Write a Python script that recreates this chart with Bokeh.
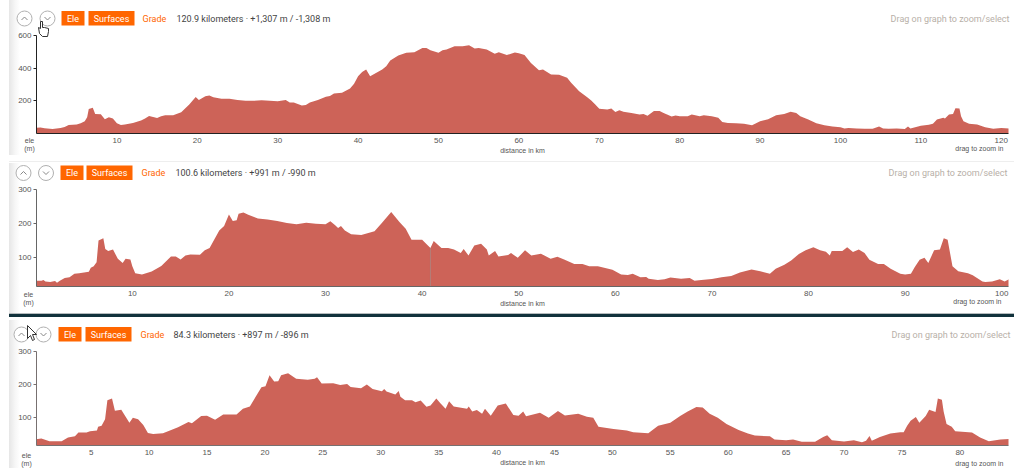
from bokeh.plotting import figure
from bokeh.layouts import column
from bokeh.models import (ColumnDataSource, Range1d, FixedTicker, Div)
from bokeh.core.properties import value
from bokeh.embed import file_html
from bokeh.resources import INLINE

# ---- data ----
km1 = [0,0.5,1,2,3,3.5,4,5,5.5,6,6.3,6.5,7,7.3,8,8.5,9,9.5,10,10.5,11,12,13,13.5,14,15,15.5,16,17,18,19,19.8,20.2,21,21.5,22,23,24,25,26,27,28,29,30,31,31.5,32,33,33.5,34,35,36,36.5,37,38,
       39,39.5,40,40.5,41,41.5,42,43,43.5,44,45,46,47,48,48.5,49,50,50.5,51,52,53,53.8,54.5,55,56,57,57.5,58.5,59.5,60,60.7,61.5,62.5,63,64,65,66,66.5,67.5,68.5,69,69.5,70,71,71.5,72,72.5,73,74,75,75.5,76,76.8,77.5,78,79,79.5,80,
       81,81.5,82.5,83,84,84.8,85.3,86,87,88,89,90,91,92,93,93.8,94.5,95,96,97,98,99,100,100.5,101,102,103,104,104.8,105.3,106,107,108,108.4,108.7,110,111,111.5,112,112.8,113,113.5,114,114.3,114.8,115,115.3,116,117,118,119,120,121]
ele1 = [35,37,32,28,33,40,52,55,62,75,100,150,158,120,118,88,100,92,62,52,55,65,80,92,107,95,105,112,112,130,177,224,205,228,232,222,213,212,205,200,200,203,200,198,205,190,190,172,175,190,205,225,230,245,249,
        275,304,350,377,392,350,365,392,412,447,477,494,498,524,524,510,494,510,514,534,534,540,520,524,514,488,498,480,496,492,480,432,388,392,361,359,341,310,259,222,202,177,151,147,153,131,143,133,126,116,120,108,137,137,126,104,110,106,
        106,116,106,112,106,96,71,65,63,59,51,75,88,112,120,133,126,106,86,63,51,43,39,31,33,31,29,29,43,31,29,31,27,43,31,47,53,59,86,96,92,116,120,155,153,106,75,59,55,39,29,33,31]

km2 = [0,0.6,0.8,1,1.5,2,2.2,2.5,3,3.5,4,4.5,5,5.5,5.7,6,6.3,6.5,7,7.2,7.5,8,8.5,9,9.3,9.8,10,10.3,11,12,13,14,14.5,15,15.5,16,17,17.5,18,19,19.5,20,20.4,20.8,21,21.5,22,23,24,25,26,27,28,29,30,30.5,31,31.3,
       31.6,32,32.65,33.7,35.07,35.76,36.8,37.65,38.3,38.9,40,40.86,41.2,42,42.7,43.3,44,44.3,44.8,45.4,46.1,46.7,46.9,47.55,47.9,48.9,49.2,49.9,50.65,51.3,52.3,53.3,54,54.7,55.75,56.6,57.3,58.2,59.7,60.6,61.3,61.8,62.6,63.2,63.45,64.4,65.1,65.7,66.8,
       67.7,68.2,68.9,70,71,72,72.9,74.1,75,76,76.6,77.5,78.2,79,79.7,80.5,81.2,81.8,82.2,82.4,83.5,84,84.6,85.2,85.8,86.3,87.2,87.8,88.5,89.5,90,90.6,91,91.5,92,92.4,93,93.6,94,94.4,94.9,95.5,96.5,97,98,98.3,99,99.8,100.3,100.75]
ele2 = [33,33,35,31,29,32,27,33,41,43,53,55,57,59,71,75,87,151,157,126,120,124,97,85,97,95,75,55,51,60,76,104,104,95,107,110,109,122,129,180,193,227,208,210,229,233,226,215,212,208,202,198,203,200,198,207,195,187,
        193,180,169,167,178,200,234,205,185,153,153,129,149,129,129,124,114,126,107,136,141,124,107,120,104,108,114,100,122,107,112,97,103,95,82,82,75,75,65,51,50,53,43,44,39,35,37,42,39,
        41,33,35,38,43,47,57,66,61,53,68,80,92,111,122,131,122,118,107,120,120,131,117,124,114,94,82,82,68,53,51,53,73,94,100,85,122,124,157,153,75,61,55,49,31,29,31,37,31,37]
gap_km2 = [40.86]
gap_top2 = [129]

km3 = [0,0.7,1.4,2.45,3,3.6,3.9,4.6,4.9,5.5,5.6,5.9,6.2,6.4,6.8,7.05,7.6,8.3,8.6,9.05,9.5,9.9,10.35,11.2,11.8,12.5,13.4,13.7,14.5,15,15.7,16.4,17.55,18.1,18.7,19.7,20.05,20.4,20.8,21.15,21.4,22,22.7,23.7,24.3,24.5,24.9,25.9,26.5,
       27.1,27.4,28.3,28.8,29.3,30.1,30.3,30.5,31.26,31.55,31.7,32.1,32.7,33,33.45,33.95,34.3,34.8,35.15,35.6,35.9,36.3,37.45,37.6,37.9,38.3,38.75,39,39.5,40.1,40.8,41.45,41.9,42.3,42.55,43.75,44.5,45.3,45.9,47.05,47.8,48.35,48.8,50.1,51.25,51.8,53.1,53.95,55,55.85,
       56.5,57.25,57.8,58.4,59.1,59.85,60.9,61.7,62.3,63.6,64,65,65.6,66.35,67.5,68.2,68.55,68.95,70,70.85,71.55,71.9,72.2,72.4,73.1,74,74.85,75.15,75.45,75.75,76.2,76.5,77.05,77.35,77.9,78.1,78.45,78.6,78.85,79.3,79.6,81.05,81.75,82.5,83.5,84.3]
ele3 = [34,37,29,29,40,44,55,55,59,61,73,76,95,153,158,121,124,85,100,95,78,54,51,53,61,71,87,83,105,106,94,110,110,127,134,192,195,228,209,210,228,234,218,215,218,222,203,204,199,
        202,193,189,200,187,180,187,179,170,181,163,153,153,147,152,133,137,158,144,127,150,134,127,134,119,123,112,127,106,137,143,108,106,119,104,115,100,120,107,112,103,100,73,66,61,56,53,76,85,105,
        119,132,131,112,100,81,63,52,46,44,34,32,34,27,27,42,47,32,28,32,26,30,45,30,42,52,56,56,76,91,102,85,105,124,117,158,154,119,81,73,59,55,40,29,34,36]

title_stats = ["120.9 kilometers · +1,307 m / -1,308 m", "100.6 kilometers · +991 m / -990 m", "84.3 kilometers · +897 m / -896 m"]
xticks = [list(range(10,121,10)), list(range(10,101,10)), list(range(5,81,5))]
yticks = [[200,400,600],[100,200,300],[100,200,300]]

# ---- style / layout ----
W = 1015
FILL = "#cd6358"
ORANGE = "#ff6600"
SANS = "Roboto"
SMALL = "Liberation Sans"

def make(top, h, l, r, pt, pb, xmin, xmax, ymin, ymax, km, ele, xt, yt, axc, shade):
    p = figure(width=W, height=h, output_backend="svg", toolbar_location=None,
               x_range=Range1d(xmin, xmax), y_range=Range1d(ymin, ymax),
               min_border_left=l, min_border_right=W-r, min_border_top=pt-top, min_border_bottom=top+h-pb)
    p.outline_line_color = None
    p.grid.visible = False
    p.background_fill_color = None
    p.border_fill_color = None
    p.styles = {"background-image": "linear-gradient(to right,#ffffff 9px,#e6e6e6 9px,#f6f6f6 15px,#ffffff 20px)",
                "background-repeat": "no-repeat",
                "background-size": f"100% {shade[1]-shade[0]}px",
                "background-position": f"0 {shade[0]-top}px"}
    src = ColumnDataSource(dict(x=km, y=ele, b=[ymin]*len(km)))
    p.varea(x="x", y1="b", y2="y", source=src, fill_color=FILL, fill_alpha=1)
    for ax in (p.xaxis[0], p.yaxis[0]):
        ax.axis_line_color = axc
        ax.axis_line_width = 1
        ax.major_label_text_font = SMALL
        ax.major_label_text_font_size = "8px"
        ax.major_label_text_color = "#555555"
        ax.minor_tick_line_color = None
    p.xaxis[0].ticker = FixedTicker(ticks=xt)
    p.yaxis[0].ticker = FixedTicker(ticks=yt)
    p.xaxis[0].major_tick_line_color = None
    p.xaxis[0].major_tick_out = 0
    p.xaxis[0].major_label_standoff = 4
    p.yaxis[0].major_tick_line_color = axc
    p.yaxis[0].major_tick_out = 3
    p.yaxis[0].major_tick_in = 0
    p.yaxis[0].major_label_standoff = 2
    p.xaxis[0].axis_label = "distance in km"
    p.xaxis[0].axis_label_text_font = SMALL
    p.xaxis[0].axis_label_text_font_size = "7px"
    p.xaxis[0].axis_label_text_font_style = "normal"
    p.xaxis[0].axis_label_text_color = "#555555"
    p.xaxis[0].axis_label_standoff = 1
    return p

# full-page transparent figure for the page furniture, one data unit = one page pixel
ui = figure(width=1020, height=468, output_backend="svg", toolbar_location=None,
            x_range=Range1d(0, 1020), y_range=Range1d(468, 0),
            x_axis_location=None, y_axis_location=None,
            min_border_left=0, min_border_right=0, min_border_top=0, min_border_bottom=0)
ui.outline_line_color = None
ui.grid.visible = False
ui.background_fill_color = None
ui.border_fill_color = None
ui.styles = {"position": "absolute", "left": "0", "top": "0", "z-index": "10", "pointer-events": "none"}

def text(x, y, s, size, color, font=SANS, align="left"):
    ui.text(x=[x], y=[y], text=[s], text_font=value(font), text_font_size=size, text_color=color,
            text_align=align, text_baseline="middle")

def chrome(rowy, ups, downs, ele_x, sur_x, grade_x, stat_x, stat, drag_r, drag_y, zoom_r, zoom_y, elex, ele_y):
    for cx, d in ((ups, -1), (downs, 1)):
        ui.scatter(x=[cx], y=[rowy], size=15, marker="circle", fill_color="white", line_color="#b0b0b0")
        ui.line(x=[cx-3, cx, cx+3], y=[rowy-1.5*d, rowy+1.5*d, rowy-1.5*d], line_color="#888888", line_width=1)
    for x0, x1 in (ele_x, sur_x):
        ui.quad(left=[x0], right=[x1], top=[rowy-7.5], bottom=[rowy+7], fill_color=ORANGE, line_color=None)
    text(sum(ele_x)/2, rowy, "Ele", "9px", "white", SANS, "center")
    text(sum(sur_x)/2, rowy, "Surfaces", "9px", "white", SANS, "center")
    text(grade_x, rowy, "Grade", "9px", ORANGE)
    text(stat_x, rowy, stat, "9px", "#444444")
    text(drag_r, drag_y, "Drag on graph to zoom/select", "9px", "#b8b0a8", SANS, "right")
    text(zoom_r, zoom_y, "drag to zoom in", "7px", "#555555", SMALL, "right")
    text(elex, ele_y, "ele", "7px", "#555555", SMALL, "center")
    text(elex, ele_y+8, "(m)", "7px", "#555555", SMALL, "center")

chrome(18, 24, 47, (61,84), (88,134), 142, 176, title_stats[0], 1009, 18, 1003, 147.5, 29, 140)
chrome(172.5, 23, 45.5, (60,83), (86,132), 141, 175, title_stats[1], 1007, 172.5, 1001, 301, 28, 294)
chrome(334, 21, 43, (58,81), (85,131), 140, 173, title_stats[2], 1010, 334, 1003, 463, 26, 455)
# mouse pointers caught in the screenshot
ui.patch(x=[40,40,38,39,42,47,48,48,44,42,42], y=[21,28,27,33,36,36,31,28,27,27,21], fill_color="white", line_color="#333333", line_width=1)
ui.patch(x=[27,27,30,32,34,32,36], y=[325,338,335,340,339,334,334], fill_color="white", line_color="#333333", line_width=1)

p1 = make(0, 161, 36, 1009, 35, 133, 0, 120.9, 0, 600, km1, ele1, xticks[0], yticks[0], "#222222", (0, 155))

sep = Div(text="", width=1005, height=1, margin=(0, 0, 0, 9), styles={"background-color": "#eeeeee"})

p2 = make(162, 151, 35, 1008, 189, 286, 0.08, 100.7, 16, 300, km2, ele2, xticks[1], yticks[1], "#666666", (163, 313))
p2.segment(x0=gap_km2, y0=[16], x1=gap_km2, y1=gap_top2, line_color="#999999", line_width=1, line_alpha=0.5)

band = Div(text="", width=1005, height=4, margin=(0, 0, 0, 9),
           styles={"background-color": "#12323c", "border-top": "1px solid #b5bbbd", "box-sizing": "border-box"})

p3 = make(317, 151, 33, 1010, 351, 449, 0.28, 84.2, 16, 300, km3, ele3, xticks[2], yticks[2], "#777070", (320, 468))

page = column(p1, sep, p2, band, p3, spacing=0)
open("out.html", "w").write(file_html([ui, page], INLINE))
